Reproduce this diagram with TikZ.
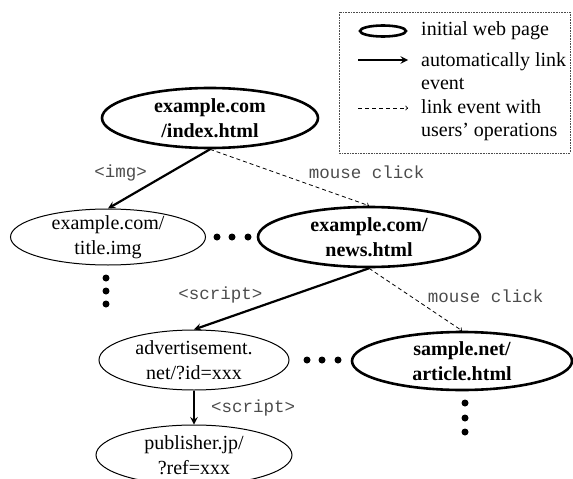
\documentclass[tikz,border=0pt]{standalone}
\usepackage{fontspec}
\setmainfont{Liberation Serif}
\setmonofont{Liberation Mono}
\usepackage{tikz}
\usetikzlibrary{shapes,arrows}

\begin{document}
\begin{tikzpicture}[x=1pt,y=-1pt,>=stealth,
  page/.style={draw,ellipse,inner xsep=0pt,inner ysep=-4pt,line width=1pt,align=center,font=\fontsize{20}{25}\selectfont},
  initpage/.style={page,line width=2.6pt,font=\fontsize{20}{25}\selectfont\bfseries},
  autolink/.style={->,line width=2.2pt},
  userlink/.style={-to,line width=0.8pt,dash pattern=on 4pt off 3pt},
  tag/.style={font=\fontsize{17.5}{20}\selectfont\ttfamily,text=black!70,inner sep=1pt},
  dot/.style={fill,circle,inner sep=0pt,minimum size=7pt},
  legtext/.style={anchor=west,align=left,inner sep=0pt,font=\fontsize{20}{23}\selectfont}]
\useasboundingbox (0,0) rectangle (573,479);

% pages
\node[initpage,minimum width=216,minimum height=60] (index) at (210,118) {example.com\\/index.html};
\node[page,minimum width=195,minimum height=56] (title) at (108,237) {example.com/\\title.img};
\node[initpage,minimum width=222,minimum height=60] (news) at (369,237) {example.com/\\news.html};
\node[page,minimum width=190,minimum height=60] (adv) at (194,360) {advertisement.\\net/?id=xxx};
\node[initpage,minimum width=220,minimum height=58] (sample) at (462,361) {sample.net/\\article.html};
\node[page,minimum width=196,minimum height=60] (pub) at (194,455) {publisher.jp/\\?ref=xxx};

% links
\draw[autolink] (index.south) -- node[tag,midway,anchor=east,xshift=-10pt,yshift=6pt] (imgtag) {<img>} (title.north);
\draw[userlink] (index.south) -- node[tag,midway,anchor=west,xshift=18pt,yshift=5pt] (clicka) {mouse click} (news.north);
\draw[autolink] (news.south) -- node[tag,midway,anchor=east,xshift=-17pt,yshift=4pt] (scripta) {<script>} (adv.north);
\draw[userlink] (news.south) -- node[tag,midway,anchor=west,xshift=11pt,yshift=3pt] (clickb) {mouse click} (sample.north);
\draw[autolink] (adv.south) -- node[tag,midway,anchor=west,xshift=15pt] (scriptb) {<script>} (pub.north);

% more pages
\foreach \i/\x/\y in {1/217/237, 2/232/237, 3/248/237,
                      4/106/278, 5/106/291, 6/106/304,
                      7/307/360, 8/322/360, 9/338/360,
                      10/465/403, 11/465/418, 12/465/432}
  \node[dot] (dot\i) at (\x,\y) {};

% legend
\draw[line width=0.6pt,black!70,dash pattern=on 0.8pt off 0.8pt] (339,12) rectangle (570,153);
\node[initpage,minimum width=46,minimum height=11] (legpage) at (383,31) {};
\coordinate (autoa) at (358,60);
\coordinate (autob) at (408,60);
\coordinate (usera) at (358,108);
\coordinate (userb) at (408,108);
\draw[autolink] (autoa) -- (autob);
\draw[userlink] (usera) -- (userb);
\node[legtext] (legpagetext) at (421,31) {initial web page};
\node[legtext] (legautotext) at (421,71) {automatically link\\event};
\node[legtext] (legusertext) at (421,120) {link event with\\users' operations};
\end{tikzpicture}
\end{document}
